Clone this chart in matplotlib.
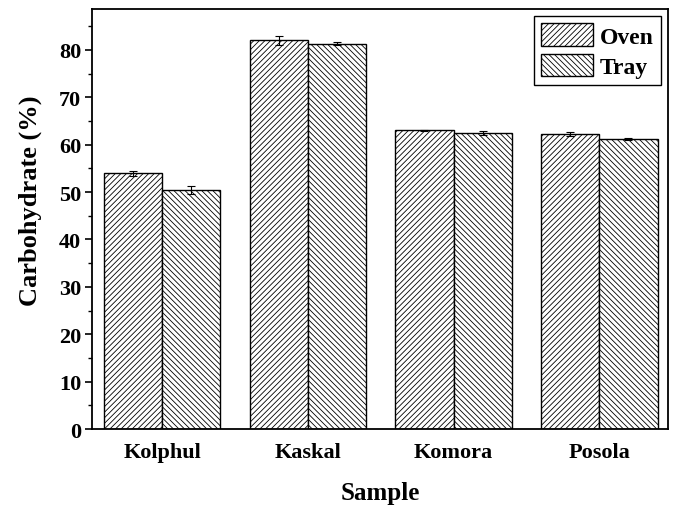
import numpy as np
import matplotlib.pyplot as plt

plt.rcParams['font.family'] = 'Liberation Serif'
plt.rcParams['font.weight'] = 'bold'
plt.rcParams['hatch.linewidth'] = 0.6

samples = ['Kolphul', 'Kaskal', 'Komora', 'Posola']
oven = [54.0, 82.0, 63.0, 62.3]
oven_err = [0.5, 1.0, 0.2, 0.4]
tray = [50.5, 81.3, 62.4, 61.2]
tray_err = [0.8, 0.3, 0.4, 0.2]

x = np.arange(1, len(samples) + 1)
w = 0.4

fig = plt.figure(figsize=(6.78, 5.06), dpi=100)
ax = fig.add_axes([0.136, 0.15, 0.849, 0.83])

ax.bar(x - w/2, oven, w, color='white', edgecolor='black', hatch='//////',
       linewidth=1.0, label='Oven', yerr=oven_err,
       error_kw=dict(ecolor='black', capsize=3, elinewidth=0.8, capthick=0.8))
ax.bar(x + w/2, tray, w, color='white', edgecolor='black', hatch='\\\\\\\\\\\\',
       linewidth=1.0, label='Tray', yerr=tray_err,
       error_kw=dict(ecolor='black', capsize=3, elinewidth=0.8, capthick=0.8))

ax.set_xlim(0.52, 4.47)
ax.set_ylim(0, 88.6)
ax.set_yticks(np.arange(0, 81, 10))
ax.set_yticks(np.arange(0, 86, 5), minor=True)
ax.set_xticks(x)
ax.set_xticklabels(samples)
ax.tick_params(axis='y', which='major', direction='out', length=5, width=1.2, labelsize=16, pad=3)
ax.tick_params(axis='y', which='minor', direction='out', length=3, width=1.0)
ax.tick_params(axis='x', length=0, labelsize=16, pad=9)
for s in ax.spines.values():
    s.set_linewidth(1.3)

ax.set_ylabel('Carbohydrate (%)', fontsize=19, fontweight='bold')
ax.yaxis.set_label_coords(-0.087, 0.545)
ax.set_xlabel('Sample', fontsize=18, fontweight='bold', labelpad=14)

leg = ax.legend(loc='upper right', fontsize=17, fancybox=False, edgecolor='black',
                framealpha=1, handlelength=2.2, handleheight=1.1, labelspacing=0.25,
                borderpad=0.3, handletextpad=0.3, borderaxespad=0.3)
leg.get_frame().set_linewidth(1.0)

plt.savefig('out.png', dpi=100)
